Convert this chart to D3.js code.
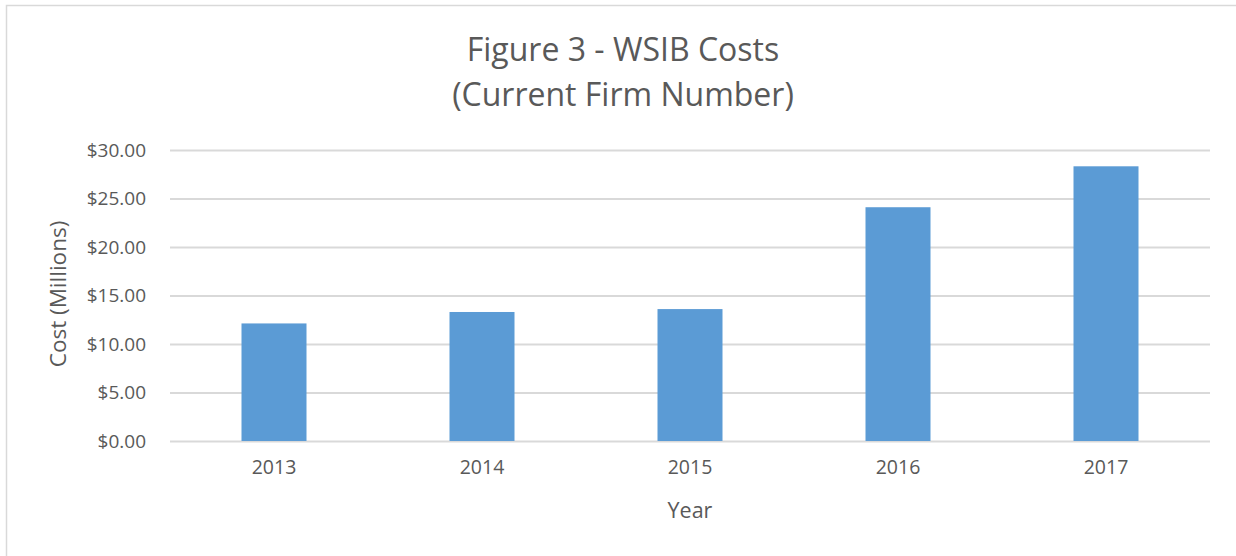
<!DOCTYPE html>
<html>
<head>
<meta charset="utf-8">
<script src="https://cdn.jsdelivr.net/npm/d3@7"></script>
<style>
  html, body { margin: 0; padding: 0; background: #fff; }
  svg { display: block; }
  svg text { font-family: "Open Sans", sans-serif; }
</style>
</head>
<body>
<div id="chart"></div>
<script>
/* chart data */
const years = ["2013", "2014", "2015", "2016", "2017"];
const costs = [12.12, 13.30, 13.60, 24.10, 28.32];
const yTicks = [0, 5, 10, 15, 20, 25, 30];
const titleLines = ["Figure 3 - WSIB Costs", "(Current Firm Number)"];

const width = 1236;
const height = 556;
const margin = { top: 150, right: 26, bottom: 115, left: 170 };
const textColour = "#595959";
const gridColour = "#d9d9d9";
const barColour = "#5b9bd5";

const svg = d3.select("#chart")
  .append("svg")
    .attr("width", width)
    .attr("height", height);

/* outer chart frame, runs off the bottom/right like the screenshot */
svg.append("rect")
  .attr("x", 6.5)
  .attr("y", 5.5)
  .attr("width", width + 20)
  .attr("height", height + 20)
  .attr("fill", "none")
  .attr("stroke", gridColour)
  .attr("stroke-width", 1.5);

const x = d3.scaleBand()
  .domain(years)
  .range([margin.left, width - margin.right])
  .paddingInner(0.6875)
  .paddingOuter(0.34375);

const y = d3.scaleLinear()
  .domain([0, 30])
  .range([height - margin.bottom, margin.top]);

/* gridlines + y labels */
const yAxis = svg.append("g")
  .attr("transform", "translate(" + margin.left + ",0)")
  .call(d3.axisLeft(y)
    .tickValues(yTicks)
    .tickSize(-(width - margin.left - margin.right))
    .tickPadding(24)
    .tickFormat(d => "$" + d3.format(".2f")(d)));
yAxis.attr("font-family", null).attr("font-size", null);
yAxis.select(".domain").remove();
yAxis.selectAll(".tick line").attr("stroke", gridColour).attr("stroke-width", 2);
yAxis.selectAll(".tick text")
  .attr("fill", textColour)
  .style("font-size", "19px");

/* bars */
svg.append("g")
  .selectAll("rect")
  .data(years)
  .join("rect")
    .attr("x", d => x(d))
    .attr("y", (d, i) => y(costs[i]))
    .attr("width", x.bandwidth())
    .attr("height", (d, i) => y(0) - y(costs[i]))
    .attr("fill", barColour);

/* x labels */
const xAxis = svg.append("g")
  .attr("transform", "translate(0," + y(0) + ")")
  .call(d3.axisBottom(x).tickSize(0).tickPadding(19));
xAxis.attr("font-family", null).attr("font-size", null);
xAxis.select(".domain").remove();
xAxis.selectAll(".tick text")
  .attr("fill", textColour)
  .style("font-size", "19.5px");

/* title */
svg.append("g")
  .selectAll("text")
  .data(titleLines)
  .join("text")
    .attr("x", 623)
    .attr("y", (d, i) => 61 + i * 45)
    .attr("text-anchor", "middle")
    .attr("fill", textColour)
    .style("font-size", "32px")
    .text(d => d);

/* axis titles */
svg.append("text")
  .attr("x", (margin.left + width - margin.right) / 2)
  .attr("y", 518)
  .attr("text-anchor", "middle")
  .attr("fill", textColour)
  .style("font-size", "21.5px")
  .text("Year");

svg.append("text")
  .attr("transform", "translate(66," + 294 + ") rotate(-90)")
  .attr("text-anchor", "middle")
  .attr("fill", textColour)
  .style("font-size", "22.5px")
  .text("Cost (Millions)");
</script>
</body>
</html>
